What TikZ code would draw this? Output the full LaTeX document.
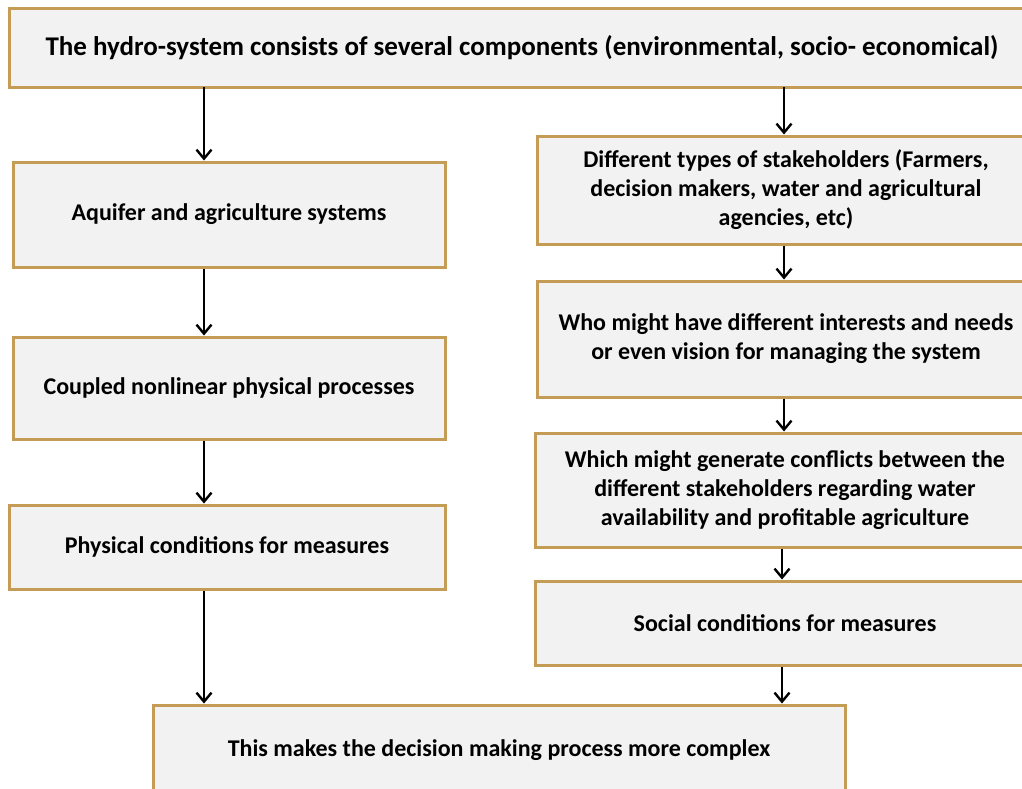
\documentclass[tikz,border=0pt]{standalone}
\usepackage{fontspec}
\setmainfont{Carlito}
\usetikzlibrary{arrows.meta}
\definecolor{boxborder}{HTML}{C49C55}
\definecolor{boxfill}{HTML}{F2F2F2}
\begin{document}
\begin{tikzpicture}[x=1pt,y=-1pt,
  box/.style={draw=boxborder, fill=boxfill, line width=3pt, align=center,
    font=\fontsize{24}{29}\selectfont\bfseries, inner sep=0pt},
  conn/.style={line width=2.6pt, -{Straight Barb[length=9pt,width=15pt,line width=2.4pt]}}]
\useasboundingbox (0,0) rectangle (1022,788);
\node[box, minimum width=1026, minimum height=79, font=\fontsize{27}{29}\selectfont\bfseries] (top) at (522,47.5)
  {The hydro-system consists of several components (environmental, socio- economical)};
\node[box, minimum width=432, minimum height=105] (aq) at (229,214.5) {Aquifer and agriculture systems};
\node[box, minimum width=432, minimum height=102] (cp) at (229,388) {Coupled nonlinear physical processes};
\node[box, minimum width=436, minimum height=84] (ph) at (227,547) {Physical conditions for measures};
\node[box, minimum width=498, minimum height=108] (st) at (786,190)
  {Different types of stakeholders (Farmers,\\ decision makers, water and agricultural\\ agencies, etc)};
\node[box, minimum width=498, minimum height=116] (wh) at (786,339)
  {Who might have different interests and needs\\ or even vision for managing the system};
\node[box, minimum width=500, minimum height=114] (wc) at (785,490)
  {Which might generate conflicts between the\\ different stakeholders regarding water\\ availability and profitable agriculture};
\node[box, minimum width=500, minimum height=84] (so) at (785,623) {Social conditions for measures};
\node[box, minimum width=692, minimum height=90] (dm) at (499,750) {This makes the decision making process more complex};
\coordinate (t1) at (204,87);
\coordinate (t2) at (784,87);
\draw[conn] (t1) -- (aq.north -| t1);
\draw[conn] (t2) -- (st.north -| t2);
\draw[conn] (aq.south -| t1) -- (cp.north -| t1);
\draw[conn] (cp.south -| t1) -- (ph.north -| t1);
\draw[conn] (ph.south -| t1) -- (dm.north -| t1);
\draw[conn] (st.south -| t2) -- (wh.north -| t2);
\draw[conn] (wh.south -| t2) -- (wc.north -| t2);
\coordinate (t3) at (782,0);
\draw[conn] (wc.south -| t3) -- (so.north -| t3);
\draw[conn] (so.south -| t3) -- (dm.north -| t3);
\end{tikzpicture}
\end{document}
